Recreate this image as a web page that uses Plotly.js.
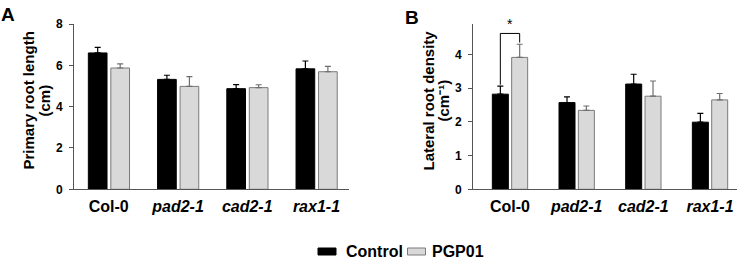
<!DOCTYPE html>
<html><head><meta charset="utf-8">
<script src="https://cdn.plot.ly/plotly-3.0.1.min.js"></script>
<style>html,body{margin:0;padding:0;background:#fff}#chart{width:750px;height:266px}</style>
</head><body><div id="chart"></div><script>
const genotypes = ['Col-0','pad2-1','cad2-1','rax1-1'];
const tickLabels = ['Col-0','<i>pad2-1</i>','<i>cad2-1</i>','<i>rax1-1</i>'];
const seriesNames = ['Control','PGP01'];
const primaryControl = [6.60, 5.32, 4.87, 5.83];
const primaryControlErr = [0.27, 0.20, 0.20, 0.38];
const primaryPGP = [5.87, 4.98, 4.92, 5.69];
const primaryPGPErr = [0.20, 0.47, 0.14, 0.26];
const lateralControl = [2.82, 2.57, 3.12, 1.99];
const lateralControlErr = [0.24, 0.17, 0.29, 0.26];
const lateralPGP = [3.91, 2.34, 2.76, 2.65];
const lateralPGPErr = [0.39, 0.13, 0.45, 0.19];
const sigLabel = '*';

const FONT = 'Liberation Sans, Arial, sans-serif';
const ctrlFill = '#000000', ctrlLine = '#000000';
const pgpFill = '#d9d9d9', pgpLine = '#7a7a7a';
const ctrlStyle = {color:ctrlFill, line:{color:ctrlLine, width:1}};
const pgpStyle = {color:pgpFill, line:{color:pgpLine, width:1}};
const zeros = genotypes.map(() => 0);

function bar(name, y, err, xa, ya, style, width, offset, errColor) {
  return {type:'bar', name, x:genotypes, y, xaxis:xa, yaxis:ya,
    width, offset, marker:style, showlegend:false,
    error_y:{type:'data', symmetric:false, array:err, arrayminus:zeros,
      color:errColor, thickness:1.2, width:3}};
}

const data = [
  bar(seriesNames[0], primaryControl, primaryControlErr, 'x', 'y', ctrlStyle, 0.27, -0.295, '#000'),
  bar(seriesNames[1], primaryPGP, primaryPGPErr, 'x', 'y', pgpStyle, 0.27, 0.03, '#6e6e6e'),
  bar(seriesNames[0], lateralControl, lateralControlErr, 'x2', 'y2', ctrlStyle, 0.24, -0.265, '#000'),
  bar(seriesNames[1], lateralPGP, lateralPGPErr, 'x2', 'y2', pgpStyle, 0.24, 0.025, '#6e6e6e')
];

const axisLine = '#555555';
const xCommon = {type:'category', tickmode:'array', tickvals:genotypes, ticktext:tickLabels,
  showline:true, linecolor:axisLine, linewidth:1, ticks:'', showgrid:false, zeroline:false,
  tickfont:{family:FONT, size:16, color:'#000', weight:'bold'}, ticklabelstandoff:2, fixedrange:true};
const yCommon = {showline:true, linecolor:axisLine, linewidth:1, ticks:'outside', ticklen:4,
  tickcolor:axisLine, showgrid:false, zeroline:false, dtick:2, ticklabelstandoff:4,
  tickfont:{family:FONT, size:12, color:'#000', weight:'bold'}, fixedrange:true};

const W = 750, H = 266;
const px = v => v / W, py = v => (H - v) / H;

// bracket positions derived from the Col-0 bars
const bL = -0.145, bR = 0.145;
const bracketTop = 4.62;
const bracketLeftBottom = lateralControl[0] + lateralControlErr[0] + 0.04;
const bracketRightBottom = lateralPGP[0] + lateralPGPErr[0] + 0.05;
const lineS = {color:'#000', width:1};

const titleFont = {family:FONT, size:15, color:'#000', weight:'bold'};
const legFont = {family:FONT, size:16, color:'#000', weight:'bold'};
const layout = {
  width:W, height:H, margin:{l:0,r:0,t:0,b:0},
  paper_bgcolor:'#fff', plot_bgcolor:'#fff',
  barmode:'group', showlegend:false,
  xaxis: Object.assign({}, xCommon, {domain:[px(74), px(349)], range:[-0.502, 3.47], anchor:'y'}),
  yaxis: Object.assign({}, yCommon, {domain:[py(189.3), py(24)], range:[0, 8], anchor:'x'}),
  xaxis2: Object.assign({}, xCommon, {domain:[px(473), px(736.7)], range:[-0.555, 3.4], anchor:'y2'}),
  yaxis2: Object.assign({}, yCommon, {domain:[py(189.3), py(24)], range:[0, 4.9], dtick:1, anchor:'x2'}),
  shapes:[
    {type:'line', xref:'x2', yref:'y2', x0:bL, x1:bL, y0:bracketLeftBottom, y1:bracketTop, line:lineS},
    {type:'line', xref:'x2', yref:'y2', x0:bL, x1:bR, y0:bracketTop, y1:bracketTop, line:lineS},
    {type:'line', xref:'x2', yref:'y2', x0:bR, x1:bR, y0:bracketRightBottom, y1:bracketTop, line:lineS},
    // legend swatches
    {type:'rect', xref:'paper', yref:'paper', x0:px(318), x1:px(336), y0:py(255), y1:py(248),
      fillcolor:ctrlFill, line:{color:ctrlLine, width:1}},
    {type:'rect', xref:'paper', yref:'paper', x0:px(407.5), x1:px(425.5), y0:py(255), y1:py(248),
      fillcolor:pgpFill, line:{color:pgpLine, width:1}}
  ],
  annotations:[
    {xref:'x2', yref:'y2', x:0, y:bracketTop, text:sigLabel, showarrow:false, yanchor:'bottom',
      yshift:-1, font:{family:FONT, size:14, color:'#000'}},
    {xref:'paper', yref:'paper', x:px(8), y:py(14), text:'A', showarrow:false, xanchor:'center', yanchor:'middle',
      font:{family:FONT, size:19, color:'#000', weight:'bold'}},
    {xref:'paper', yref:'paper', x:px(412), y:py(17), text:'B', showarrow:false, xanchor:'center', yanchor:'middle',
      font:{family:FONT, size:19, color:'#000', weight:'bold'}},
    {xref:'paper', yref:'paper', x:px(28), y:py(100.5), text:'Primary root length', textangle:-90, showarrow:false,
      xanchor:'center', yanchor:'middle', font:titleFont},
    {xref:'paper', yref:'paper', x:px(44), y:py(100.5), text:'(cm)', textangle:-90, showarrow:false,
      xanchor:'center', yanchor:'middle', font:titleFont},
    {xref:'paper', yref:'paper', x:px(428), y:py(100.5), text:'Lateral root density', textangle:-90, showarrow:false,
      xanchor:'center', yanchor:'middle', font:titleFont},
    {xref:'paper', yref:'paper', x:px(443), y:py(100.5), text:'(cm\u207B\u00B9)', textangle:-90, showarrow:false,
      xanchor:'center', yanchor:'middle', font:titleFont},
    {xref:'paper', yref:'paper', x:px(344), y:py(251.5), text:seriesNames[0], showarrow:false,
      xanchor:'left', yanchor:'middle', font:legFont},
    {xref:'paper', yref:'paper', x:px(430), y:py(251.5), text:seriesNames[1], showarrow:false,
      xanchor:'left', yanchor:'middle', font:legFont}
  ]
};

Plotly.newPlot('chart', data, layout, {displayModeBar:false, staticPlot:true});
</script></body></html>
